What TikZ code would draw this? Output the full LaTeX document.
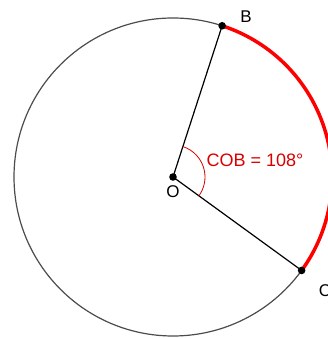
\documentclass[tikz,border=0pt]{standalone}
\usepackage{fontspec}
\setmainfont{Liberation Sans}
\usepackage{tikz}

\begin{document}
\begin{tikzpicture}[x=1pt,y=1pt,line width=1.2pt,
	ptlabel/.style={font=\fontsize{17}{19}\selectfont,inner sep=0pt},
	anglabel/.style={font=\fontsize{18}{20}\selectfont,text=red!85!black,inner sep=0pt,anchor=west}]
			\useasboundingbox (0,0) rectangle (327,339);
			\coordinate (O) at (173,162);
			\path (O) ++(72:159) coordinate (B);
			\path (O) ++(-36:159) coordinate (C);
			\draw[black!70] (O) circle (159);
			\draw[red,line width=3.5pt] (B) arc (72:-36:159);
			\draw (O) -- (B);
			\draw (O) -- (C);
			\draw[red!85!black,line width=0.8pt] (O) ++(72:32) arc (72:-36:32);
			\fill (O) circle (3.8);
			\fill (B) circle (3.8);
			\fill (C) circle (3.8);
			\node[ptlabel] (labO) at (173,147) {O};
			\node[ptlabel] (labB) at (246,322) {B};
			\node[ptlabel] (labC) at (325,48) {C};
			\node[anglabel] (labCOB) at (206,179) {COB = 108°};
		\end{tikzpicture}
\end{document}
